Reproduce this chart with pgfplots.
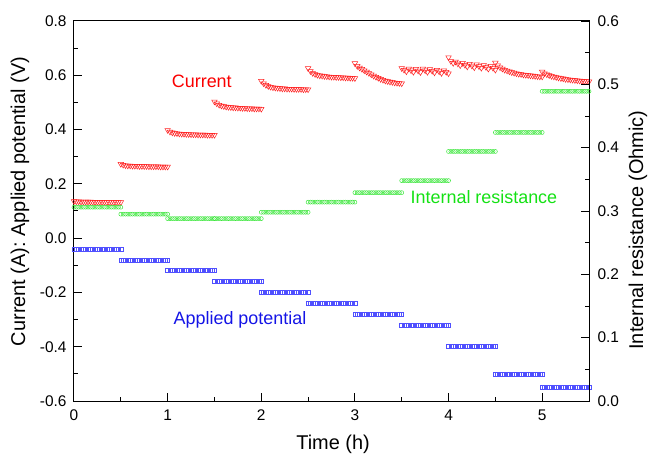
\documentclass[border=0pt]{standalone}
\usepackage{fontspec}
\setmainfont{Liberation Sans}
\usepackage{pgfplots}
\usepackage{pgfplotstable}
\pgfplotsset{compat=1.18}
\definecolor{cRed}{RGB}{255,30,30}
\definecolor{cGreen}{RGB}{60,230,60}
\definecolor{cBlue}{RGB}{80,80,255}
\definecolor{tRed}{RGB}{250,0,0}
\definecolor{tGreen}{RGB}{20,225,20}
\definecolor{tBlue}{RGB}{20,20,230}
\pgfplotstableread{
t I V R
0.000 0.136 -0.04 0.306
0.025 0.135 -0.04 0.306
0.050 0.135 -0.04 0.306
0.075 0.134 -0.04 0.306
0.100 0.134 -0.04 0.306
0.125 0.134 -0.04 0.306
0.150 0.134 -0.04 0.306
0.175 0.134 -0.04 0.306
0.200 0.133 -0.04 0.306
0.225 0.133 -0.04 0.306
0.250 0.133 -0.04 0.306
0.275 0.133 -0.04 0.306
0.300 0.133 -0.04 0.306
0.325 0.133 -0.04 0.306
0.350 0.132 -0.04 0.306
0.375 0.132 -0.04 0.306
0.400 0.132 -0.04 0.306
0.425 0.132 -0.04 0.306
0.450 0.132 -0.04 0.306
0.475 0.132 -0.04 0.306
0.500 0.132 -0.04 0.306
0.500 0.273 -0.08 0.295
0.525 0.270 -0.08 0.295
0.550 0.268 -0.08 0.295
0.575 0.267 -0.08 0.295
0.600 0.267 -0.08 0.295
0.625 0.266 -0.08 0.295
0.650 0.266 -0.08 0.295
0.675 0.266 -0.08 0.295
0.700 0.265 -0.08 0.295
0.725 0.265 -0.08 0.295
0.750 0.265 -0.08 0.295
0.775 0.265 -0.08 0.295
0.800 0.264 -0.08 0.295
0.825 0.264 -0.08 0.295
0.850 0.264 -0.08 0.295
0.875 0.264 -0.08 0.295
0.900 0.264 -0.08 0.295
0.925 0.263 -0.08 0.295
0.950 0.263 -0.08 0.295
0.975 0.263 -0.08 0.295
1.000 0.263 -0.08 0.295
1.000 0.398 -0.12 0.288
1.025 0.392 -0.12 0.288
1.050 0.389 -0.12 0.288
1.075 0.387 -0.12 0.288
1.100 0.386 -0.12 0.288
1.125 0.385 -0.12 0.288
1.150 0.384 -0.12 0.288
1.175 0.384 -0.12 0.288
1.200 0.383 -0.12 0.288
1.225 0.383 -0.12 0.288
1.250 0.382 -0.12 0.288
1.275 0.382 -0.12 0.288
1.300 0.382 -0.12 0.288
1.325 0.381 -0.12 0.288
1.350 0.381 -0.12 0.288
1.375 0.381 -0.12 0.288
1.400 0.381 -0.12 0.288
1.425 0.380 -0.12 0.288
1.450 0.380 -0.12 0.288
1.475 0.380 -0.12 0.288
1.500 0.380 -0.12 0.288
1.500 0.503 -0.16 0.288
1.525 0.496 -0.16 0.288
1.550 0.491 -0.16 0.288
1.575 0.488 -0.16 0.288
1.600 0.486 -0.16 0.288
1.625 0.484 -0.16 0.288
1.650 0.483 -0.16 0.288
1.675 0.482 -0.16 0.288
1.700 0.481 -0.16 0.288
1.725 0.481 -0.16 0.288
1.750 0.480 -0.16 0.288
1.775 0.480 -0.16 0.288
1.800 0.479 -0.16 0.288
1.825 0.479 -0.16 0.288
1.850 0.478 -0.16 0.288
1.875 0.478 -0.16 0.288
1.900 0.478 -0.16 0.288
1.925 0.477 -0.16 0.288
1.950 0.477 -0.16 0.288
1.975 0.477 -0.16 0.288
2.000 0.476 -0.16 0.288
2.000 0.579 -0.20 0.298
2.025 0.570 -0.20 0.298
2.050 0.564 -0.20 0.298
2.075 0.560 -0.20 0.298
2.100 0.557 -0.20 0.298
2.125 0.555 -0.20 0.298
2.150 0.554 -0.20 0.298
2.175 0.553 -0.20 0.298
2.200 0.552 -0.20 0.298
2.225 0.551 -0.20 0.298
2.250 0.551 -0.20 0.298
2.275 0.550 -0.20 0.298
2.300 0.550 -0.20 0.298
2.325 0.550 -0.20 0.298
2.350 0.549 -0.20 0.298
2.375 0.549 -0.20 0.298
2.400 0.549 -0.20 0.298
2.425 0.549 -0.20 0.298
2.450 0.548 -0.20 0.298
2.475 0.548 -0.20 0.298
2.500 0.548 -0.20 0.298
2.500 0.626 -0.24 0.314
2.525 0.615 -0.24 0.314
2.550 0.608 -0.24 0.314
2.575 0.604 -0.24 0.314
2.600 0.601 -0.24 0.314
2.625 0.599 -0.24 0.314
2.650 0.598 -0.24 0.314
2.675 0.597 -0.24 0.314
2.700 0.596 -0.24 0.314
2.725 0.595 -0.24 0.314
2.750 0.594 -0.24 0.314
2.775 0.594 -0.24 0.314
2.800 0.593 -0.24 0.314
2.825 0.593 -0.24 0.314
2.850 0.592 -0.24 0.314
2.875 0.592 -0.24 0.314
2.900 0.591 -0.24 0.314
2.925 0.591 -0.24 0.314
2.950 0.590 -0.24 0.314
2.975 0.590 -0.24 0.314
3.000 0.589 -0.24 0.314
3.000 0.644 -0.28 0.329
3.025 0.634 -0.28 0.329
3.050 0.628 -0.28 0.329
3.075 0.623 -0.28 0.329
3.100 0.618 -0.28 0.329
3.125 0.613 -0.28 0.329
3.150 0.608 -0.28 0.329
3.175 0.603 -0.28 0.329
3.200 0.598 -0.28 0.329
3.225 0.594 -0.28 0.329
3.250 0.590 -0.28 0.329
3.275 0.586 -0.28 0.329
3.300 0.583 -0.28 0.329
3.325 0.580 -0.28 0.329
3.350 0.578 -0.28 0.329
3.375 0.576 -0.28 0.329
3.400 0.575 -0.28 0.329
3.425 0.573 -0.28 0.329
3.450 0.572 -0.28 0.329
3.475 0.571 -0.28 0.329
3.500 0.570 -0.28 0.329
3.500 0.626 -0.32 0.348
3.525 0.620 -0.32 0.348
3.550 0.614 -0.32 0.348
3.575 0.624 -0.32 0.348
3.600 0.618 -0.32 0.348
3.625 0.612 -0.32 0.348
3.650 0.623 -0.32 0.348
3.675 0.617 -0.32 0.348
3.700 0.611 -0.32 0.348
3.725 0.624 -0.32 0.348
3.750 0.618 -0.32 0.348
3.775 0.612 -0.32 0.348
3.800 0.622 -0.32 0.348
3.825 0.616 -0.32 0.348
3.850 0.610 -0.32 0.348
3.875 0.620 -0.32 0.348
3.900 0.614 -0.32 0.348
3.925 0.608 -0.32 0.348
3.950 0.618 -0.32 0.348
3.975 0.612 -0.32 0.348
4.000 0.607 -0.32 0.348
4.000 0.666 -0.40 0.394
4.025 0.652 -0.40 0.394
4.050 0.645 -0.40 0.394
4.075 0.650 -0.40 0.394
4.100 0.643 -0.40 0.394
4.125 0.637 -0.40 0.394
4.150 0.645 -0.40 0.394
4.175 0.638 -0.40 0.394
4.200 0.632 -0.40 0.394
4.225 0.642 -0.40 0.394
4.250 0.635 -0.40 0.394
4.275 0.629 -0.40 0.394
4.300 0.640 -0.40 0.394
4.325 0.633 -0.40 0.394
4.350 0.627 -0.40 0.394
4.375 0.637 -0.40 0.394
4.400 0.630 -0.40 0.394
4.425 0.624 -0.40 0.394
4.450 0.634 -0.40 0.394
4.475 0.627 -0.40 0.394
4.500 0.620 -0.40 0.394
4.500 0.646 -0.50 0.424
4.525 0.636 -0.50 0.424
4.550 0.629 -0.50 0.424
4.575 0.624 -0.50 0.424
4.600 0.620 -0.50 0.424
4.625 0.617 -0.50 0.424
4.650 0.614 -0.50 0.424
4.675 0.611 -0.50 0.424
4.700 0.609 -0.50 0.424
4.725 0.607 -0.50 0.424
4.750 0.605 -0.50 0.424
4.775 0.604 -0.50 0.424
4.800 0.602 -0.50 0.424
4.825 0.601 -0.50 0.424
4.850 0.600 -0.50 0.424
4.875 0.599 -0.50 0.424
4.900 0.598 -0.50 0.424
4.925 0.597 -0.50 0.424
4.950 0.596 -0.50 0.424
4.975 0.595 -0.50 0.424
5.000 0.595 -0.50 0.424
5.000 0.613 -0.55 0.489
5.025 0.607 -0.55 0.489
5.050 0.603 -0.55 0.489
5.075 0.600 -0.55 0.489
5.100 0.597 -0.55 0.489
5.125 0.595 -0.55 0.489
5.150 0.593 -0.55 0.489
5.175 0.591 -0.55 0.489
5.200 0.589 -0.55 0.489
5.225 0.588 -0.55 0.489
5.250 0.586 -0.55 0.489
5.275 0.585 -0.55 0.489
5.300 0.584 -0.55 0.489
5.325 0.583 -0.55 0.489
5.350 0.582 -0.55 0.489
5.375 0.581 -0.55 0.489
5.400 0.580 -0.55 0.489
5.425 0.579 -0.55 0.489
5.450 0.578 -0.55 0.489
5.475 0.578 -0.55 0.489
5.500 0.577 -0.55 0.489
}\data
\begin{document}
\begin{tikzpicture}
\useasboundingbox (-74bp,-53bp) rectangle (575bp,401bp);
\begin{axis}[
  scale only axis, width=515bp, height=380bp,
  xmin=0, xmax=5.5, ymin=-0.6, ymax=0.8,
  xtick={0,1,2,3,4,5}, minor x tick num=1,
  ytick={-0.6,-0.4,-0.2,0,0.2,0.4,0.6,0.8}, minor y tick num=1,
  xtick pos=bottom, ytick pos=left,
  tick align=inside,
  major tick length=8bp, minor tick length=4bp,
  axis line style={line width=1bp},
  tick style={line width=1bp, black},
  /pgf/number format/assume math mode=true,
  ticklabel style={font=\fontsize{15.5}{18}\selectfont},
  yticklabel style={xshift=-4bp, /pgf/number format/fixed, /pgf/number format/fixed zerofill, /pgf/number format/precision=1},
  xticklabel style={yshift=-5bp, /pgf/number format/fixed, /pgf/number format/precision=0},
  xlabel={Time (h)},
  ylabel={Current (A): Applied potential (V)},
  every axis x label/.style={at={(axis description cs:0.503,-0.113)}, anchor=center, font=\fontsize{20}{24}\selectfont},
  every axis y label/.style={at={(axis description cs:-0.105,0.525)}, anchor=center, rotate=90, font=\fontsize{20}{24}\selectfont},
]
\addplot[only marks, mark=square, mark size=2bp, color=cBlue, mark options={line width=0.5bp}] table[x=t, y=V]{\data};
\addplot[only marks, mark=triangle, mark size=3.2bp, color=cRed, mark options={rotate=180, line width=0.5bp}] table[x=t, y=I]{\data};
\node[tRed, anchor=base, font=\fontsize{18}{22}\selectfont] at (axis cs:1.365,0.556) {Current};
\node[tGreen, anchor=base, font=\fontsize{18}{22}\selectfont] at (axis cs:4.378,0.126) {Internal resistance};
\node[tBlue, anchor=base, font=\fontsize{18}{22}\selectfont] at (axis cs:1.773,-0.318) {Applied potential};
\end{axis}
\begin{axis}[
  scale only axis, width=515bp, height=380bp,
  xmin=0, xmax=5.5, ymin=0, ymax=0.6,
  axis x line=none, axis y line*=right,
  ytick={0,0.1,0.2,0.3,0.4,0.5,0.6}, minor y tick num=1,
  tick align=inside,
  major tick length=8bp, minor tick length=4bp,
  axis line style={line width=1bp},
  tick style={line width=1bp, black},
  /pgf/number format/assume math mode=true,
  ticklabel style={font=\fontsize{15.5}{18}\selectfont},
  yticklabel style={xshift=5bp, /pgf/number format/fixed, /pgf/number format/fixed zerofill, /pgf/number format/precision=1},
  ylabel={Internal resistance (Ohmic)},
  every axis y label/.style={at={(axis description cs:1.095,0.45)}, anchor=center, rotate=90, font=\fontsize{20}{24}\selectfont},
]
\addplot[only marks, mark=o, mark size=2bp, color=cGreen, mark options={line width=0.5bp}] table[x=t, y=R]{\data};
\end{axis}
\end{tikzpicture}
\end{document}
